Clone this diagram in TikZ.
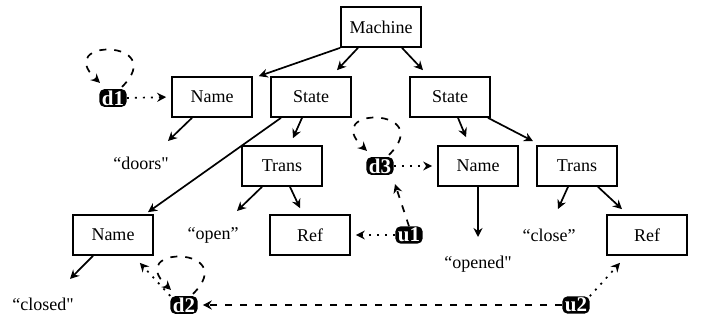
\documentclass[tikz,border=0pt]{standalone}
\usepackage{fontspec}
\setmainfont{Liberation Serif}[Ligatures=TeXOff]
\usetikzlibrary{arrows.meta,calc}
\begin{document}
\begin{tikzpicture}[x=1pt,y=-1pt,
  box/.style={draw,line width=1.7pt,minimum width=80pt,minimum height=40pt,inner sep=0pt,font=\fontsize{18}{20}\selectfont},
  lbl/.style={inner sep=0pt,font=\fontsize{18}{20}\selectfont},
  tag/.style={fill=black,text=white,rounded corners=5pt,inner xsep=2.5pt,inner ysep=1.5pt,font=\fontsize{21}{22}\selectfont\bfseries},
  tree/.style={line width=1.7pt,-{Stealth[length=9pt,width=9pt,inset=3pt]}},
  dotarr/.style={tree,dash pattern=on 2pt off 6pt},
  dasharr/.style={tree,dash pattern=on 7pt off 8pt},
]
\useasboundingbox (0,0) rectangle (702,323);
\node[box] (M) at (381,27) {Machine};
\node[box] (N1) at (212,97) {Name};
\node[box] (S1) at (311,97) {State};
\node[box] (S2) at (450,97) {State};
\node[box] (T1) at (282,166) {Trans};
\node[box] (N3) at (478,166) {Name};
\node[box] (T2) at (577,166) {Trans};
\node[box] (N2) at (113,235) {Name};
\node[box] (R1) at (310,235) {Ref};
\node[box] (R2) at (647,235) {Ref};
\node[lbl] (doors) at (141,163) {“doors"};
\node[lbl] (open) at (213,235) {“open”};
\node[lbl] (closed) at (43,304) {“closed"};
\node[lbl] (opened) at (478,264) {“opened"};
\node[lbl] (close) at (549,235) {“close”};
\node[tag] (d1) at (113,98) {d1};
\node[tag] (d3) at (380,166) {d3};
\node[tag] (u1) at (409,235) {u1};
\node[tag] (d2) at (184,305) {d2};
\node[tag] (u2) at (576,305) {u2};
% tree edges
\draw[tree] (M.south west) -- ([xshift=6pt]N1.north east);
\draw[tree] ([xshift=-23pt]M.south) -- ([xshift=26pt,yshift=6pt]S1.north);
\draw[tree] ([xshift=21pt]M.south) -- ([xshift=-27pt,yshift=6pt]S2.north);
\draw[tree] ([xshift=-20pt]N1.south) -- ([xshift=27pt,yshift=22pt]doors.center);
\draw[tree] ([xshift=-9pt]S1.south) -- ([xshift=11pt,yshift=7pt]T1.north);
\draw[tree] ([xshift=-30pt]S1.south) -- ([xshift=35pt,yshift=2pt]N2.north);
\draw[tree] ([xshift=-20pt]T1.south) -- ([xshift=24pt,yshift=24pt]open.center);
\draw[tree] ([xshift=8pt]T1.south) -- ([xshift=-10pt,yshift=6pt]R1.north);
\draw[tree] ([xshift=-20pt]N2.south) -- ([xshift=27pt,yshift=25pt]closed.center);
\draw[tree] ([xshift=8pt]S2.south) -- ([xshift=-12pt,yshift=8pt]N3.north);
\draw[tree] ([xshift=38pt]S2.south) -- ([xshift=-44pt,yshift=4pt]T2.north);
\draw[tree] (N3.south) -- ([yshift=27pt]opened.center);
\draw[tree] ([xshift=-9pt]T2.south) -- ([xshift=9pt,yshift=26pt]close.center);
\draw[tree] ([xshift=21pt]T2.south) -- ([xshift=-25pt,yshift=5pt]R2.north);
% reference arrows
\draw[dotarr,shorten >=5pt] (d1.east) -- (N1.west);
\draw[dotarr,shorten >=5pt] (d3.east) -- (N3.west);
\draw[dotarr,shorten >=5pt] (u1.west) -- (R1.east);
\draw[dasharr,shorten >=5pt] (u2.west) -- (d2.east);
\draw[dasharr] (u1.north) -- ([xshift=15pt,yshift=-9pt]d3.south);
\draw[dotarr] (u2.north east) -- ([xshift=-27pt,yshift=-7pt]R2.south);
\draw[dotarr] (d2.north west) -- ([xshift=-14pt,yshift=-7pt]N2.south east);
% loops
\foreach \t in {d1,d2,d3}{
  \draw[dasharr] ($(\t.north)+(9,-2)$) .. controls ($(\t.north)+(57,-50)$) and ($(\t.north)+(-61,-51)$) .. ($(\t.north)+(-13,-6)$);
}
\end{tikzpicture}
\end{document}
